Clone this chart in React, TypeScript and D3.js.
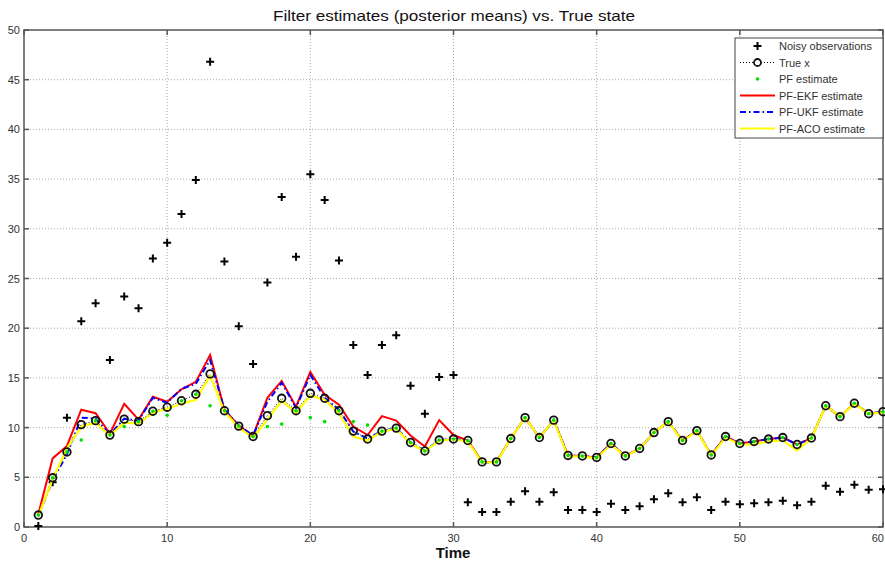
import React from "react";
import * as d3 from "d3";

const timeSteps: number[] = d3.range(1, 61);

const noisyObs: number[] = [
  0.1, 4.5, 11.0, 20.7, 22.5, 16.8, 23.2, 22.0, 27.0, 28.6,
  31.5, 34.9, 46.8, 26.7, 20.2, 16.4, 24.6, 33.2, 27.2, 35.5,
  32.9, 26.8, 18.3, 15.3, 18.3, 19.3, 14.2, 11.4, 15.1, 15.3,
  2.5, 1.5, 1.5, 2.55, 3.6, 2.55, 3.5, 1.7, 1.7, 1.5,
  2.35, 1.7, 2.1, 2.8, 3.4, 2.5, 3.0, 1.7, 2.55, 2.3,
  2.4, 2.5, 2.65, 2.2, 2.55, 4.15, 3.55, 4.25, 3.75, 3.8,
];

const trueX: number[] = [
  1.2, 4.95, 7.55, 10.3, 10.7, 9.25, 10.85, 10.6, 11.65, 12.05,
  12.7, 13.35, 15.4, 11.7, 10.15, 9.1, 11.2, 12.95, 11.7, 13.45,
  12.95, 11.7, 9.65, 8.85, 9.65, 9.95, 8.5, 7.65, 8.75, 8.85,
  8.7, 6.55, 6.55, 8.9, 11.0, 9.0, 10.75, 7.2, 7.15, 7.0,
  8.4, 7.15, 7.9, 9.5, 10.6, 8.7, 9.7, 7.25, 9.1, 8.4,
  8.6, 8.85, 9.0, 8.3, 8.95, 12.2, 11.1, 12.45, 11.4, 11.6,
];

const pfEst: number[] = [
  1.2, 4.95, 7.55, 8.75, 10.7, 9.25, 10.1, 10.6, 11.65, 11.25,
  12.7, 13.35, 12.2, 11.7, 10.15, 9.1, 10.1, 10.35, 11.7, 11.0,
  10.6, 11.7, 10.6, 10.25, 9.65, 9.95, 8.5, 7.65, 8.75, 8.85,
  8.7, 6.55, 6.55, 8.9, 11.0, 9.0, 10.75, 7.2, 7.15, 7.0,
  8.4, 7.15, 7.9, 9.5, 10.6, 8.7, 9.7, 7.25, 9.1, 8.4,
  8.6, 8.85, 9.0, 8.3, 8.95, 12.2, 11.1, 12.45, 11.4, 11.6,
];

const ekfEst: number[] = [
  1.3, 6.9, 8.15, 11.8, 11.45, 9.4, 12.4, 10.8, 13.1, 12.6,
  13.85, 14.6, 17.3, 11.8, 10.2, 9.2, 13.0, 14.7, 12.1, 15.6,
  13.3, 12.3, 10.1, 9.25, 11.15, 10.7, 9.2, 8.1, 10.75, 9.25,
  8.7, 6.55, 6.55, 8.9, 11.0, 9.0, 10.75, 7.2, 7.15, 7.0,
  8.4, 7.15, 7.9, 9.5, 10.6, 8.7, 9.7, 7.25, 9.1, 8.4,
  8.6, 8.85, 9.0, 8.3, 8.95, 12.2, 11.1, 12.45, 11.4, 11.6,
];

const ukfEst: number[] = [
  1.1, 4.7, 7.3, 11.0, 10.9, 9.3, 10.9, 10.7, 13.0, 12.5,
  13.9, 14.4, 16.8, 11.8, 10.2, 9.2, 12.6, 14.5, 12.0, 15.3,
  13.0, 11.8, 9.6, 8.9, 9.65, 9.95, 8.5, 7.65, 8.75, 8.85,
  8.7, 6.5, 6.5, 8.9, 11.0, 9.0, 10.75, 7.2, 7.15, 7.0,
  8.4, 7.15, 7.9, 9.5, 10.6, 8.7, 9.7, 7.25, 9.1, 8.4,
  8.6, 8.85, 9.0, 8.3, 8.95, 12.2, 11.1, 12.45, 11.4, 11.6,
];

const acoEst: number[] = [
  1.1, 4.8, 7.9, 10.1, 10.5, 9.2, 10.5, 10.4, 11.5, 11.9,
  12.4, 12.8, 15.2, 11.6, 10.0, 9.0, 10.8, 12.7, 11.5, 13.2,
  12.8, 11.4, 9.1, 8.7, 9.6, 9.9, 8.4, 7.6, 8.7, 8.8,
  8.6, 6.5, 6.5, 8.9, 11.0, 9.0, 10.7, 7.1, 7.1, 6.9,
  8.3, 7.1, 7.9, 9.5, 10.6, 8.6, 9.7, 7.2, 9.0, 8.3,
  8.3, 8.6, 8.7, 7.7, 8.9, 12.2, 11.1, 12.4, 11.4, 11.5,
];

const xTicks: number[] = [0, 10, 20, 30, 40, 50, 60];
const yTicks: number[] = [0, 5, 10, 15, 20, 25, 30, 35, 40, 45, 50];
const legendLabels: string[] = [
  "Noisy observations",
  "True x",
  "PF estimate",
  "PF-EKF estimate",
  "PF-UKF estimate",
  "PF-ACO estimate",
];

const W = 885;
const H = 562;
const left = 24;
const right = 883;
const top = 30;
const bottom = 527;
const FONT = "'Liberation Sans', Arial, Helvetica, sans-serif";

export default function App() {
  const x = d3.scaleLinear().domain([0, 60]).range([left, right]);
  const y = d3.scaleLinear().domain([0, 50]).range([bottom, top]);
  const line = (vals: number[]) =>
    d3
      .line<number>()
      .x((_, i) => x(timeSteps[i]))
      .y((v) => y(v))(vals) || "";

  const axisColor = "#555";
  const tickLen = 5;
  const lx0 = 740;
  const lx1 = 775;
  const lTextX = 779;
  const lRowY = (i: number) => 46 + i * 16.5;

  return (
    <svg
      width={W}
      height={H}
      style={{ position: "absolute", left: 0, top: 0, background: "#fff" }}
      fontFamily={FONT}
    >
      <rect x={0} y={0} width={W} height={H} fill="#fff" />
      {/* grid */}
      {xTicks.slice(1, -1).map((t) => (
        <line key={"gx" + t} x1={x(t)} x2={x(t)} y1={top} y2={bottom} stroke="#aaa" strokeWidth={1} strokeDasharray="1,2" />
      ))}
      {yTicks.slice(1, -1).map((t) => (
        <line key={"gy" + t} x1={left} x2={right} y1={y(t)} y2={y(t)} stroke="#aaa" strokeWidth={1} strokeDasharray="1,2" />
      ))}
      {/* box */}
      <rect x={left} y={top} width={right - left} height={bottom - top} fill="none" stroke={axisColor} strokeWidth={1.5} />
      {/* ticks */}
      {xTicks.map((t, i) => (
        <g key={"tx" + t}>
          <line x1={x(t)} x2={x(t)} y1={bottom} y2={bottom - tickLen} stroke={axisColor} strokeWidth={1.5} />
          <line x1={x(t)} x2={x(t)} y1={top} y2={top + tickLen} stroke={axisColor} strokeWidth={1.5} />
          <text
            x={i === xTicks.length - 1 ? W - 1 : x(t)}
            y={542}
            fontSize={11}
            textAnchor={i === xTicks.length - 1 ? "end" : "middle"}
            fill="#333"
          >
            {t}
          </text>
        </g>
      ))}
      {yTicks.map((t) => (
        <g key={"ty" + t}>
          <line x1={left} x2={left + tickLen} y1={y(t)} y2={y(t)} stroke={axisColor} strokeWidth={1.5} />
          <line x1={right} x2={right - tickLen} y1={y(t)} y2={y(t)} stroke={axisColor} strokeWidth={1.5} />
          <text x={20} y={y(t) + 4} fontSize={11} textAnchor="end" fill="#333">
            {t}
          </text>
        </g>
      ))}
      {/* title and label */}
      <text x={454} y={21} fontSize={15} textAnchor="middle" fill="#111" textLength={362} lengthAdjust="spacingAndGlyphs">
        Filter estimates (posterior means) vs. True state
      </text>
      <text x={453} y={558} fontSize={15} fontWeight="bold" textAnchor="middle" fill="#111">
        Time
      </text>

      {/* observations */}
      {noisyObs.map((v, i) => (
        <path
          key={"o" + i}
          d={`M${x(timeSteps[i]) - 4},${y(v)}h8M${x(timeSteps[i])},${y(v) - 4}v8`}
          stroke="#000"
          strokeWidth={2}
        />
      ))}
      {/* true x dotted line */}
      <path d={line(trueX)} fill="none" stroke="#000" strokeWidth={1} strokeDasharray="1,2" />
      {/* estimates */}
      <path d={line(ekfEst)} fill="none" stroke="#ff0000" strokeWidth={2} />
      <path d={line(ukfEst)} fill="none" stroke="#0000ff" strokeWidth={2} strokeDasharray="6,3,1.5,3" />
      <path d={line(acoEst)} fill="none" stroke="#ffff00" strokeWidth={2.2} />
      {/* true x circles */}
      {trueX.map((v, i) => (
        <circle key={"c" + i} cx={x(timeSteps[i])} cy={y(v)} r={3.8} fill="none" stroke="#111" strokeWidth={1.8} />
      ))}
      {/* PF dots */}
      {pfEst.map((v, i) => (
        <circle key={"p" + i} cx={x(timeSteps[i])} cy={y(v)} r={1.8} fill="#00e000" />
      ))}

      {/* legend */}
      <rect x={735} y={38} width={148} height={100} fill="#fff" stroke="#444" strokeWidth={1} />
      {legendLabels.map((lab, i) => (
        <text key={"lt" + i} x={lTextX} y={lRowY(i) + 4} fontSize={11} fill="#333">
          {lab}
        </text>
      ))}
      <path d={`M${(lx0 + lx1) / 2 - 4},${lRowY(0)}h8M${(lx0 + lx1) / 2},${lRowY(0) - 4}v8`} stroke="#000" strokeWidth={2} />
      <line x1={lx0} x2={lx1} y1={lRowY(1)} y2={lRowY(1)} stroke="#000" strokeWidth={1} strokeDasharray="1,2" />
      <circle cx={(lx0 + lx1) / 2} cy={lRowY(1)} r={3.5} fill="#fff" stroke="#111" strokeWidth={1.8} />
      <circle cx={(lx0 + lx1) / 2} cy={lRowY(2)} r={1.8} fill="#00e000" />
      <line x1={lx0} x2={lx1} y1={lRowY(3)} y2={lRowY(3)} stroke="#ff0000" strokeWidth={2} />
      <line x1={lx0} x2={lx1} y1={lRowY(4)} y2={lRowY(4)} stroke="#0000ff" strokeWidth={2} strokeDasharray="6,3,1.5,3" />
      <line x1={lx0} x2={lx1} y1={lRowY(5)} y2={lRowY(5)} stroke="#ffff00" strokeWidth={2.2} />
    </svg>
  );
}
